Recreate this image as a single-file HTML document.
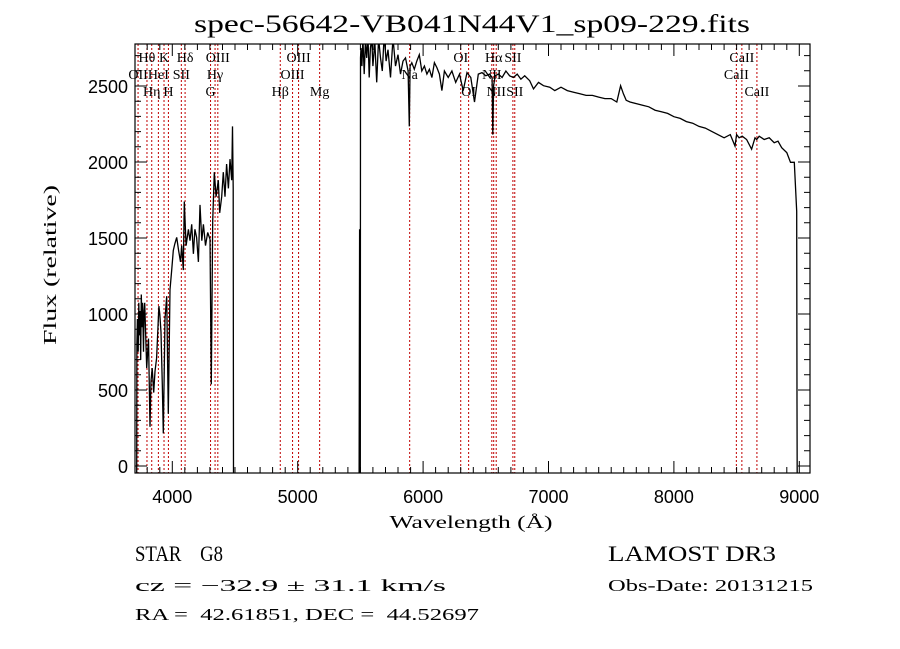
<!DOCTYPE html>
<html><head><meta charset="utf-8"><style>
html,body{margin:0;padding:0;background:#fff;}
svg{display:block;}
.tk{font-family:"Liberation Sans",sans-serif;font-size:18px;fill:#000;}
.ln{font-family:"Liberation Serif",serif;font-size:14px;fill:#000;}
.mono{font-family:"Liberation Serif",serif;fill:#000;white-space:pre;}
</style></head><body>
<svg id="chart" width="900" height="649" viewBox="0 0 900 649" xmlns="http://www.w3.org/2000/svg">
<rect width="900" height="649" fill="#fff"/>
<text x="472" y="32" class="mono" font-size="25" textLength="556" lengthAdjust="spacingAndGlyphs" text-anchor="middle">spec-56642-VB041N44V1_sp09-229.fits</text>
<g id="lines"></g>
<g id="labels"></g>
<g id="spec"></g>
<g id="axes"></g>
<text x="471" y="528" class="mono" font-size="18" textLength="163" lengthAdjust="spacingAndGlyphs" text-anchor="middle">Wavelength (Å)</text>
<text transform="translate(56,265) rotate(-90)" class="mono" font-size="18" textLength="160" lengthAdjust="spacingAndGlyphs" text-anchor="middle">Flux (relative)</text>
<text x="135" y="561" class="mono" font-size="22" textLength="88" lengthAdjust="spacingAndGlyphs">STAR    G8</text>
<text x="608" y="561" class="mono" font-size="22" textLength="168" lengthAdjust="spacingAndGlyphs">LAMOST DR3</text>
<text x="135" y="591" class="mono" font-size="17" textLength="311" lengthAdjust="spacingAndGlyphs">cz = −32.9 ± 31.1 km/s</text>
<text x="608" y="591" class="mono" font-size="17" textLength="205" lengthAdjust="spacingAndGlyphs">Obs-Date: 20131215</text>
<text x="135" y="620" class="mono" font-size="17" textLength="344" lengthAdjust="spacingAndGlyphs">RA =  42.61851, DEC =  44.52697</text>
</svg>
<script>
const wave = [3716,3718,3722,3728,3733,3738,3743,3748,3753,3758,3763,3770,3775,3780,3788,3796,3810,3822,3830,3840,3852,3862,3875,3893,3900,3910,3920,3928,3942,3955,3968,3982,3995,4008,4020,4035,4050,4065,4075,4088,4096,4110,4128,4141,4155,4168,4180,4194,4208,4221,4235,4248,4265,4282,4301,4311,4322,4335,4349,4367,4378,4394,4407,4420,4433,4447,4460,4474,4480,4486,4488,
5490,5494,5496,5499,5501,5505,5512,5520,5530,5540,5550,5560,5570,5580,5590,5600,5615,5630,5645,5660,5675,5690,5705,5720,5740,5760,5780,5800,5820,5840,5860,5880,5890,5896,5910,5930,5950,5970,5990,6010,6030,6050,6070,6090,6110,6130,6150,6170,6200,6230,6260,6290,6320,6350,6380,6410,6440,6470,6500,6530,6550,6556,6562,6575,6600,6630,6660,6690,6720,6750,6780,6810,6850,6880,6920,6960,7010,7050,7100,7150,7200,7250,7300,7350,7400,7450,7500,7545,7575,7597,7620,7650,7700,7750,7800,7850,7900,7950,8000,8050,8100,8150,8200,8250,8300,8350,8400,8450,8487,8500,8520,8545,8580,8620,8647,8660,8680,8720,8760,8800,8830,8860,8900,8930,8960,8979,8982,8983,8984];
const flux = [-100,805,967,752,1074,859,1020,698,1128,913,1074,752,1020,1074,859,644,838,258,558,644,483,623,709,1052,999,881,537,215,967,1117,344,1160,1289,1418,1461,1504,1418,1343,1450,1289,1740,1450,1557,1482,1590,1396,1557,1504,1343,1718,1482,1590,1450,1536,1493,537,1611,1933,1772,1880,1665,1772,1933,1772,1987,1826,2019,1880,2234,1826,-100,
-100,1557,-100,-100,2685,2750,2631,2814,2578,2792,2685,2846,2556,2749,2814,2631,2792,2524,2814,2685,2599,2835,2664,2739,2556,2814,2631,2706,2578,2664,2685,2599,2234,2631,2653,2610,2664,2706,2599,2631,2578,2610,2556,2653,2621,2578,2470,2599,2556,2599,2524,2578,2470,2588,2556,2395,2578,2588,2567,2578,2556,2180,2502,2567,2578,2556,2599,2567,2556,2578,2545,2567,2535,2481,2524,2502,2492,2470,2492,2470,2459,2449,2438,2438,2427,2417,2417,2395,2502,2449,2406,2395,2384,2374,2363,2341,2331,2320,2298,2287,2266,2255,2234,2223,2202,2180,2159,2180,2105,2180,2159,2170,2148,2084,2159,2148,2170,2148,2159,2127,2137,2094,2062,1998,1998,1675,408,-100];
const lineWave = [3727,3798,3836,3889,3934,3969,4072,4102,4305,4341,4363,4861,4959,5007,5175,5893,6300,6363,6548,6563,6583,6716,6731,8498,8542,8662];
const lineName = ["OII","Hθ","Hη","HeI","K","H","SII","Hδ","G","Hγ","OIII","Hβ","OIII","OIII","Mg","Na","OI","OI","NII","Hα","NII","SII","SII","CaII","CaII","CaII"];
const lineRow = [1,0,2,1,0,2,1,0,2,1,0,2,1,0,2,1,0,2,1,0,2,0,2,1,0,2];
const xTicks = [4000,5000,6000,7000,8000,9000];
const yTicks = [0,500,1000,1500,2000,2500];

const L=135,R=810,T=44,B=473;
const x = w => 172.3 + (w-4000)*0.1254;
const y = f => 466 - f*0.152;
const NS="http://www.w3.org/2000/svg";
function mk(tag, parent){ const e=document.createElementNS(NS,tag); parent.appendChild(e); return e; }

const gl=document.getElementById('lines');
const glab=document.getElementById('labels');
const rowY=[62,79,96];
lineWave.forEach((w,i)=>{
  const l=mk('line',gl);
  
  
  l.setAttribute('x1',x(w));l.setAttribute('x2',x(w));l.setAttribute('y1',T);l.setAttribute('y2',B);
  l.setAttribute('stroke','#c00000');l.setAttribute('stroke-width','1');l.setAttribute('stroke-dasharray','2,2');
  const t=mk('text',glab);
  
  
  t.setAttribute('class','ln');t.setAttribute('x',x(w));t.setAttribute('y',rowY[lineRow[i]]);t.setAttribute('text-anchor','middle');
  t.textContent=lineName[i];
});

const gs=document.getElementById('spec');
const cp=mk('clipPath',gs); cp.setAttribute('id','clip');
const cr=mk('rect',cp); cr.setAttribute('x',L);cr.setAttribute('y',T);cr.setAttribute('width',R-L);cr.setAttribute('height',B-T);
const p=mk('polyline',gs);


p.setAttribute('points',wave.map((w,i)=>x(w).toFixed(1)+','+y(flux[i]).toFixed(1)).join(' '));
p.setAttribute('fill','none');p.setAttribute('stroke','#000');p.setAttribute('stroke-width','1.3');p.setAttribute('clip-path','url(#clip)');

const ga=document.getElementById('axes');
const fr=mk('rect',ga);


fr.setAttribute('x',L);fr.setAttribute('y',T);fr.setAttribute('width',R-L);fr.setAttribute('height',B-T);
fr.setAttribute('fill','none');fr.setAttribute('stroke','#000');fr.setAttribute('stroke-width','1.2');
let d='';
for(let w=3800;w<=9000;w+=100){const X=x(w).toFixed(1);const len=(w%1000===0)?12:6;d+=`M${X},${B}v-${len}M${X},${T}v${len}`;}
for(let f=100;f<=2700;f+=100){const Y=y(f).toFixed(1);const len=(f%500===0)?12:6;d+=`M${L},${Y}h${len}M${R},${Y}h-${len}`;}
{const Y=y(0).toFixed(1);d+=`M${L},${Y}h12M${R},${Y}h-12`;}
const tp=mk('path',ga);


tp.setAttribute('d',d);tp.setAttribute('stroke','#000');tp.setAttribute('stroke-width','1');
xTicks.forEach(w=>{const t=mk('text',ga);
  
  
  t.setAttribute('class','tk');t.setAttribute('x',x(w));t.setAttribute('y',503);t.setAttribute('text-anchor','middle');t.textContent=w;});
yTicks.forEach(f=>{const t=mk('text',ga);
  
  
  t.setAttribute('class','tk');t.setAttribute('x',128);t.setAttribute('y',y(f)+7);t.setAttribute('text-anchor','end');t.textContent=f;});
</script>
</body></html>
